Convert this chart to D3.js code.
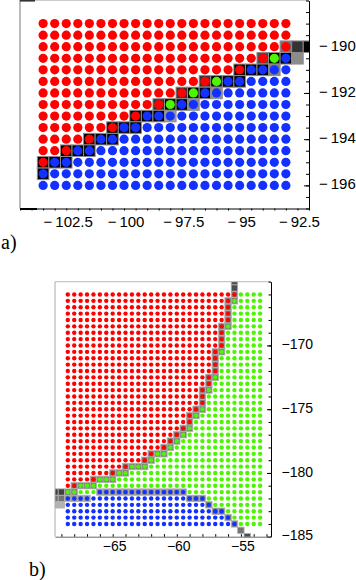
<!DOCTYPE html>
<html>
<head>
<meta charset="utf-8">
<script src="https://cdn.jsdelivr.net/npm/d3@7"></script>
<style>
body { margin: 0; background: #fff; }
</style>
</head>
<body>
<div id="chart"></div>
<script>
// panel a: 22 x 15 grid of states
var aCols = [-103.5,-103,-102.5,-102,-101.5,-101,-100.5,-100,-99.5,-99,-98.5,-98,-97.5,-97,-96.5,-96,-95.5,-95,-94.5,-94,-93.5,-93];
var aRows = [-189,-189.5,-190,-190.5,-191,-191.5,-192,-192.5,-193,-193.5,-194,-194.5,-195,-195.5,-196];
// red dots from the left in each row, then one green column (index, -1 = none), rest blue
var aRedCount = [22,22,22,20,18,15,13,11,9,7,5,3,1,0,0];
var aGreen = [-1,-1,-1,20,-1,15,13,11,-1,-1,-1,-1,-1,-1,-1];
// shaded boxes: [x from, x to, y, darkness]
var aBoxes = [
  [-93,-93,-190,0.55],[-92.5,-92.5,-190,0.8],[-92,-92,-190,1],
  [-94,-94,-190.5,0.7],[-93.5,-93,-190.5,1],[-92.5,-92.5,-190.5,0.45],
  [-95,-94,-191,1],[-93.5,-93.5,-191,0.5],
  [-96.5,-96.5,-191.5,0.8],[-96,-95,-191.5,1],
  [-97.5,-97.5,-192,0.8],[-97,-96.5,-192,1],[-96,-96,-192,0.45],
  [-98.5,-98.5,-192.5,0.8],[-98,-97.5,-192.5,1],[-97,-97,-192.5,0.45],
  [-99.5,-98.5,-193,1],[-98,-98,-193,0.4],
  [-100.5,-99.5,-193.5,1],
  [-101.5,-100.5,-194,1],
  [-102.5,-101.5,-194.5,1],
  [-103.5,-102.5,-195,1],
  [-103.5,-103.5,-195.5,1]
];
var aXTicks = [-102.5,-100,-97.5,-95,-92.5];
var aYTicks = [-190,-192,-194,-196];

// panel b: 31 x 37 grid of states
var bCols = [-68.5,-68,-67.5,-67,-66.5,-66,-65.5,-65,-64.5,-64,-63.5,-63,-62.5,-62,-61.5,-61,-60.5,-60,-59.5,-59,-58.5,-58,-57.5,-57,-56.5,-56,-55.5,-55,-54.5,-54,-53.5];
var bRows = [-166,-166.5,-167,-167.5,-168,-168.5,-169,-169.5,-170,-170.5,-171,-171.5,-172,-172.5,-173,-173.5,-174,-174.5,-175,-175.5,-176,-176.5,-177,-177.5,-178,-178.5,-179,-179.5,-180,-180.5,-181,-181.5,-182,-182.5,-183,-183.5,-184];
var bRedCount = [27,26,26,26,26,25,25,25,25,24,24,24,24,23,23,22,22,22,21,20,20,19,18,17,16,14,13,10,8,5,2,0,0,0,0,0,0];
var bBlueFrom = [-1,-1,-1,-1,-1,-1,-1,-1,-1,-1,-1,-1,-1,-1,-1,-1,-1,-1,-1,-1,-1,-1,-1,-1,-1,-1,-1,-1,-1,-1,-1,5,0,0,0,0,0];
var bBlueTo   = [-1,-1,-1,-1,-1,-1,-1,-1,-1,-1,-1,-1,-1,-1,-1,-1,-1,-1,-1,-1,-1,-1,-1,-1,-1,-1,-1,-1,-1,-1,-1,19,22,23,25,26,27];
var bBoxes = [
  [-55.5,-55.5,-165,0.7],[-55.5,-55.5,-165.5,0.7],
  [-55.5,-55.5,-166,0.5],[-56,-55.5,-166.5,0.5],
  [-56,-56,-167,0.5],[-56,-56,-167.5,0.5],[-56,-56,-168,0.5],
  [-56.5,-56,-168.5,0.5],
  [-56.5,-56.5,-169,0.5],[-56.5,-56.5,-169.5,0.5],[-56.5,-56.5,-170,0.5],
  [-57,-56.5,-170.5,0.5],
  [-57,-57,-171,0.5],[-57,-57,-171.5,0.5],[-57,-57,-172,0.5],
  [-57.5,-57,-172.5,0.5],[-57.5,-57.5,-173,0.5],
  [-58,-57.5,-173.5,0.5],[-58,-58,-174,0.5],[-58,-58,-174.5,0.5],
  [-58.5,-58,-175,0.5],[-59,-58.5,-175.5,0.5],[-59,-59,-176,0.5],
  [-59.5,-59,-176.5,0.5],[-60,-59.5,-177,0.5],[-60.5,-60,-177.5,0.5],
  [-61,-60.5,-178,0.5],[-62,-61,-178.5,0.5],[-62.5,-62,-179,0.5],
  [-64,-62.5,-179.5,0.5],[-65,-64,-180,0.5],[-66.5,-65,-180.5,0.5],
  [-68,-66.5,-181,0.5],
  [-69.5,-69,-181.5,0.75],[-68.5,-68,-181.5,0.5],[-66,-59.5,-181.5,0.45],
  [-69.5,-69,-182,0.55],[-68.5,-67,-182,0.4],[-59,-58,-182,0.5],
  [-69.5,-69,-182.5,0.3],[-57.5,-57.5,-182.5,0.5],
  [-57,-56.5,-183,0.5],[-56,-56,-183.5,0.5],[-55.5,-55.5,-184,0.5],
  [-55,-55,-184.5,0.55],[-54.5,-54.5,-185,0.7]
];
var bXTicks = [-65,-60,-55];
var bYTicks = [-170,-175,-180,-185];

var colors = {r: "#ff0000", g: "#4cf500", b: "#1230ff"};

var svg = d3.select("#chart").append("svg").attr("width", 356).attr("height", 580);

function gray(s) { var v = Math.round(255 * (1 - s)); return d3.rgb(v, v, v).toString(); }

function expandBoxes(list) {
  var out = [];
  list.forEach(b => { for (var v = b[0]; v <= b[1] + 1e-9; v += 0.5) out.push({x: v, y: b[2], s: b[3]}); });
  return out;
}

function styleText(sel, size) {
  sel.attr("font-family", "'Liberation Sans', Arial, sans-serif").attr("font-size", size);
  sel.selectAll("text").attr("fill", "#000");
  sel.selectAll("line,path").attr("stroke", "#000");
}

const drawPanelA = () => {
  var x = d3.scaleLinear().domain([-104.5, -92]).range([20, 309]),
      y = d3.scaleLinear().domain([-188, -197]).range([0.5, 208.5]),
      g = svg.append("g");
  g.append("clipPath").attr("id", "clipA").append("rect").attr("x", 20).attr("y", 0).attr("width", 289).attr("height", 208.5);
  var cw = x(0.5) - x(0), ch = y(-0.5) - y(0);
  g.append("g").attr("clip-path", "url(#clipA)").selectAll("rect").data(expandBoxes(aBoxes)).enter().append("rect")
    .attr("x", d => x(d.x) - cw / 2).attr("y", d => y(d.y) - ch / 2)
    .attr("width", cw).attr("height", ch).attr("fill", d => gray(d.s))
    .attr("stroke", "#8c8c8c").attr("stroke-width", 1);
  var dots = [];
  aRows.forEach((yv, r) => aCols.forEach((xv, c) => {
    dots.push({x: xv, y: yv, k: c < aRedCount[r] ? "r" : (c === aGreen[r] ? "g" : "b")});
  }));
  g.append("g").selectAll("circle").data(dots).enter().append("circle")
    .attr("cx", d => x(d.x)).attr("cy", d => y(d.y)).attr("r", 4.6).attr("fill", d => colors[d.k]);
  // frame
  g.append("line").attr("x1", 20).attr("x2", 20).attr("y1", 0).attr("y2", 208.5).attr("stroke", "#777");
  g.append("line").attr("x1", 20).attr("x2", 309).attr("y1", 0.5).attr("y2", 0.5).attr("stroke", "#ccc");
  g.append("line").attr("x1", 20).attr("x2", 35).attr("y1", 0.8).attr("y2", 0.8).attr("stroke", "#333").attr("stroke-width", 1.6);
  g.append("line").attr("x1", 20).attr("x2", 37).attr("y1", 209).attr("y2", 209).attr("stroke", "#000").attr("stroke-width", 2);
  // right axis
  var ry = g.append("g").attr("transform", "translate(309,0)")
    .call(d3.axisRight(y).tickValues(d3.range(-197, -187.99, 0.5)).tickSizeInner(-3).tickSizeOuter(0).tickFormat(""));
  styleText(ry, 15);
  var ryl = g.append("g").attr("transform", "translate(309,0)")
    .call(d3.axisRight(y).tickValues(aYTicks).tickSize(-5).tickPadding(10).tickFormat(d => "\u2212\u2009" + Math.abs(d)));
  ryl.select(".domain").remove();
  styleText(ryl, 15);
  ryl.selectAll("text").attr("dy", "0.22em");
  // bottom axis
  var bx = g.append("g").attr("transform", "translate(0,208.5)")
    .call(d3.axisBottom(x).tickValues(d3.range(-104.5, -91.99, 0.5)).tickSizeInner(2).tickSizeOuter(0).tickFormat(""));
  styleText(bx, 15);
  var bxl = g.append("g").attr("transform", "translate(1.5,208.5)")
    .call(d3.axisBottom(x).tickValues(aXTicks).tickSize(0).tickPadding(8).tickFormat(d => "\u2212\u2009" + Math.abs(d)));
  bxl.select(".domain").remove();
  styleText(bxl, 15);
  g.append("text").attr("x", 1).attr("y", 249).attr("font-family", "'Liberation Serif', serif").attr("font-size", 20).text("a)");
};

const drawPanelB = () => {
  var x = d3.scaleLinear().domain([-69.5, -52.65]).range([55, 271]),
      y = d3.scaleLinear().domain([-165, -185]).range([281.7, 536.7]),
      g = svg.append("g");
  g.append("clipPath").attr("id", "clipB").append("rect").attr("x", 55).attr("y", 281.7).attr("width", 216).attr("height", 255);
  var cw = x(0.5) - x(0), ch = y(-0.5) - y(0);
  g.append("g").attr("clip-path", "url(#clipB)").selectAll("rect").data(expandBoxes(bBoxes)).enter().append("rect")
    .attr("x", d => x(d.x) - cw / 2).attr("y", d => y(d.y) - ch / 2)
    .attr("width", cw).attr("height", ch).attr("fill", d => gray(d.s))
    .attr("stroke", "#b0b0b0").attr("stroke-width", 0.8);
  var dots = [];
  bRows.forEach((yv, r) => bCols.forEach((xv, c) => {
    var k = c < bRedCount[r] ? "r" : (c >= bBlueFrom[r] && c < bBlueTo[r] ? "b" : "g");
    dots.push({x: xv, y: yv, k: k});
  }));
  g.append("g").selectAll("circle").data(dots).enter().append("circle")
    .attr("cx", d => x(d.x)).attr("cy", d => y(d.y)).attr("r", 2.2).attr("fill", d => colors[d.k]);
  // frame
  g.append("line").attr("x1", 55).attr("x2", 55).attr("y1", 281.7).attr("y2", 536.7).attr("stroke", "#aaa");
  g.append("line").attr("x1", 55).attr("x2", 271).attr("y1", 281.7).attr("y2", 281.7).attr("stroke", "#bbb");
  var ry = g.append("g").attr("transform", "translate(271,0)")
    .call(d3.axisRight(y).tickValues(d3.range(-185, -164.99, 1)).tickSizeInner(-2.5).tickSizeOuter(0).tickFormat(""));
  styleText(ry, 14);
  var ryl = g.append("g").attr("transform", "translate(271,0)")
    .call(d3.axisRight(y).tickValues(bYTicks).tickSize(-4).tickPadding(10.5).tickFormat(d => "\u2212" + Math.abs(d)));
  ryl.select(".domain").remove();
  styleText(ryl, 14);
  ryl.selectAll("text").attr("dy", "0.22em");
  var bx = g.append("g").attr("transform", "translate(0,536.7)")
    .call(d3.axisBottom(x).tickValues(d3.range(-69, -52.99, 1)).tickSizeInner(-2.5).tickSizeOuter(0).tickFormat(""));
  styleText(bx, 14);
  bx.select(".domain").attr("stroke", "#666");
  var bxl = g.append("g").attr("transform", "translate(1.5,536.7)")
    .call(d3.axisBottom(x).tickValues(bXTicks).tickSize(0).tickPadding(4.5).tickFormat(d => "\u2212" + Math.abs(d)));
  bxl.select(".domain").remove();
  styleText(bxl, 14);
  g.append("text").attr("x", 29).attr("y", 576).attr("font-family", "'Liberation Serif', serif").attr("font-size", 20).text("b)");
};

drawPanelA();
drawPanelB();
</script>
</body>
</html>
